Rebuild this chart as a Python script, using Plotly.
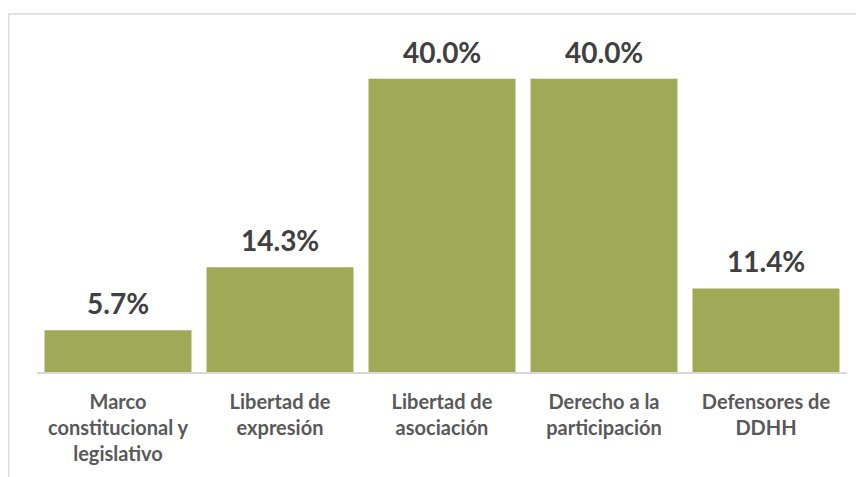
import plotly.graph_objects as go

categories = [
    "Marco<br>constitucional y<br>legislativo",
    "Libertad de<br>expresión",
    "Libertad de<br>asociación",
    "Derecho a la<br>participación",
    "Defensores de<br>DDHH",
]
values = [5.7, 14.3, 40.0, 40.0, 11.4]
value_labels = ["5.7%", "14.3%", "40.0%", "40.0%", "11.4%"]

fig = go.Figure(
    go.Bar(
        x=categories,
        y=values,
        marker=dict(color="#A0A955", line=dict(width=0)),
        hoverinfo="skip",
    )
)

annotations = [
    dict(
        x=c, y=v, xref="x", yref="y",
        text=t, showarrow=False,
        yanchor="bottom", yshift=8,
        font=dict(family="Lato", size=28, color="#404040", weight="bold"),
    )
    for c, v, t in zip(categories, values, value_labels)
]

fig.update_layout(
    width=864,
    height=477,
    margin=dict(l=29, r=25, t=34, b=113),
    paper_bgcolor="white",
    plot_bgcolor="white",
    bargap=0.093,
    showlegend=False,
    font=dict(family="Lato", color="#595959"),
    annotations=annotations,
    xaxis=dict(
        showline=True,
        linecolor="#D9D9D9",
        linewidth=1.5,
        showgrid=False,
        ticks="",
        tickfont=dict(family="Lato", size=20, color="#595959", weight="bold"),
        ticklabelstandoff=11,
        fixedrange=True,
    ),
    yaxis=dict(
        range=[0, 45],
        visible=False,
        showgrid=False,
        zeroline=False,
        fixedrange=True,
    ),
    shapes=[
        dict(
            type="rect",
            xref="paper", yref="paper",
            xsizemode="pixel", ysizemode="pixel",
            xanchor=0, yanchor=1,
            x0=-28.5, x1=1000,
            y0=28, y1=-600,
            line=dict(color="#D9D9D9", width=1.5),
            fillcolor="rgba(0,0,0,0)",
            layer="below",
        )
    ],
)

fig.write_html("out.html")
